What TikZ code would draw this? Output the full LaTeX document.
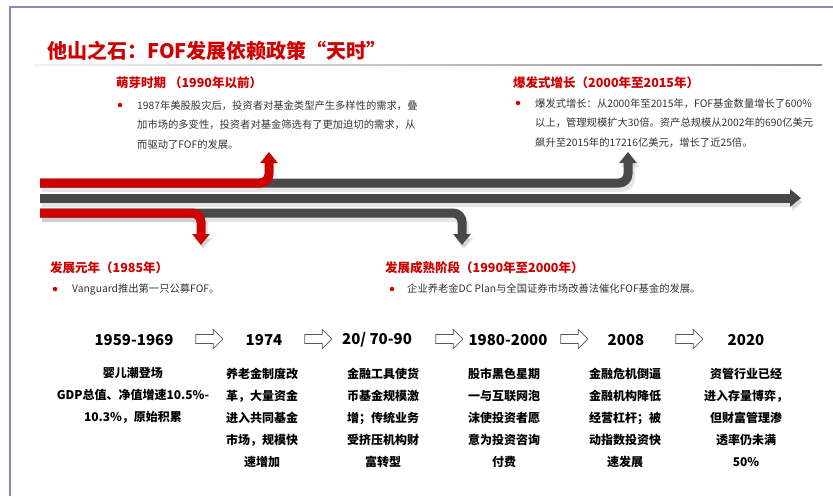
\documentclass[tikz,border=0pt]{standalone}
\usepackage{fontspec}
\setmainfont{Noto Sans CJK SC}
\usetikzlibrary{arrows.meta, positioning, shapes.arrows}
\definecolor{hired}{RGB}{206,0,0}
\definecolor{flowgray}{RGB}{72,72,72}
\definecolor{framebl}{RGB}{132,137,182}
\tikzstyle{head} = [anchor=west, inner sep=0, text=hired, font=\fontsize{12.5}{14}\selectfont\bfseries]
\tikzstyle{dot} = [circle, fill=hired, inner sep=0, minimum size=4.5pt]
\tikzstyle{para} = [anchor=north west, inner sep=0, align=left, text=black!80, font=\fontsize{10.3}{19.5}\selectfont]
\tikzstyle{line} = [anchor=west, inner sep=0, text=black!80, font=\fontsize{10.3}{12}\selectfont]
\tikzstyle{year} = [inner sep=0, font=\fontsize{15}{17}\selectfont\bfseries]
\tikzstyle{desc} = [anchor=north, inner sep=0, align=center, font=\fontsize{12}{22}\selectfont\bfseries]
\tikzstyle{hollow} = [single arrow, draw=black!65, fill=white, line width=0.7pt, minimum height=27pt, inner xsep=0pt, inner ysep=4.2pt, single arrow head extend=5pt]
\tikzstyle{redflow} = [line width=9pt, hired, rounded corners=9pt, -{Triangle[length=11pt,width=17pt]}]
\tikzstyle{grayflow} = [line width=9pt, flowgray, rounded corners=9pt, -{Triangle[length=11pt,width=17pt]}]
\tikzstyle{shadowflow} = [line width=10pt, black, opacity=0.1, rounded corners=9pt, -{Triangle[length=11pt,width=18pt]}, transform canvas={shift={(2pt,-4pt)}}]

\begin{document}
\begin{tikzpicture}[x=1pt, y=-1pt]
	\useasboundingbox (0,0) rectangle (833,496);

	% Frame and title
	\draw[framebl, line width=1.5pt] (10,496) -- (10,7) -- (833,7);
	\node (title) [anchor=west, inner sep=0, text=hired, font=\fontsize{20}{22}\selectfont\bfseries] at (47,51) {他山之石：FOF发展依赖政策“天时”};
	\shade[left color=black!5, middle color=black!75, right color=black!45] (33,64.3) rectangle (822,65.8);

	% Upper stages
	\node (h1) [head] at (116,83) {萌芽时期 （1990年以前）};
	\node (dot1) [dot] at (120,105) {};
	\node (p1) [para] at (137,100.3) {1987年美股股灾后，投资者对基金类型产生多样性的需求，叠\\加市场的多变性，投资者对基金筛选有了更加迫切的需求，从\\而驱动了FOF的发展。};

	\node (h2) [head] at (513,83) {爆发式增长（2000年至2015年）};
	\node (dot2) [dot] at (518,103) {};
	\node (p2) [para] at (535,98.3) {爆发式增长：从2000年至2015年，FOF基金数量增长了600\%\\以上，管理规模扩大30倍。资产总规模从2002年的690亿美元\\飙升至2015年的17216亿美元，增长了近25倍。};

	% Lower stages
	\node (h3) [head] at (50,268) {发展元年（1985年）};
	\node (dot3) [dot] at (55,289) {};
	\node (p3) [line] at (72,289) {Vanguard推出第一只公募FOF。};

	\node (h4) [head] at (385,268) {发展成熟阶段（1990年至2000年）};
	\node (dot4) [dot] at (392,289) {};
	\node (p4) [line] at (407,289) {企业养老金DC Plan与全国证券市场改善法催化FOF基金的发展。};

	% Flow ends
	\coordinate (sTop) at (40,183);
	\coordinate (sMid) at (40,198);
	\coordinate (sBot) at (40,213);
	\coordinate (tRedUp) at (269,152);
	\coordinate (tGrayUp) at (628,152);
	\coordinate (tRedDown) at (201,245);
	\coordinate (tGrayDown) at (462,245);
	\coordinate (tMain) at (801,198);

	% Flow shadows
	\draw[shadowflow] (sTop) -| (tGrayUp);
	\draw[shadowflow] (sMid) -- (tMain);
	\draw[shadowflow] (sBot) -| (tGrayDown);
	\draw[shadowflow] (sBot) -| (tRedDown);

	% Flows
	\draw[grayflow] (sTop) -| (tGrayUp);
	\draw[redflow] (sTop) -| (tRedUp);
	\draw[grayflow] (sMid) -- (tMain);
	\draw[grayflow] (sBot) -| (tGrayDown);
	\draw[redflow] (sBot) -| (tRedDown);

	% Timeline
	\node (y1) [year] at (134,340) {1959-1969};
	\node (y2) [year] at (264,340) {1974};
	\node (y3) [year] at (377,340) {20/ 70-90};
	\node (y4) [year] at (508,340) {1980-2000};
	\node (y5) [year] at (626,340) {2008};
	\node (y6) [year] at (746,340) {2020};

	\node (a1) [hollow] at (207,339) {};
	\node (a2) [hollow] at (316,339) {};
	\node (a3) [hollow] at (447,339) {};
	\node (a4) [hollow] at (572,339) {};
	\node (a5) [hollow] at (687,339) {};

	\node (d1) [desc] at (133,367.5) {婴儿潮登场\\GDP总值、净值增速10.5\%-\\10.3\%，原始积累};
	\node (d2) [desc] at (262,367.5) {养老金制度改\\革，大量资金\\进入共同基金\\市场，规模快\\速增加};
	\node (d3) [desc] at (383,367.5) {金融工具使货\\币基金规模激\\增；传统业务\\受挤压机构财\\富转型};
	\node (d4) [desc] at (504,367.5) {股市黑色星期\\一与互联网泡\\沫使投资者愿\\意为投资咨询\\付费};
	\node (d5) [desc] at (625,367.5) {金融危机倒逼\\金融机构降低\\经营杠杆；被\\动指数投资快\\速发展};
	\node (d6) [desc] at (746,367.5) {资管行业已经\\进入存量博弈，\\但财富管理渗\\透率仍未满\\50\%};

\end{tikzpicture}
\end{document}
